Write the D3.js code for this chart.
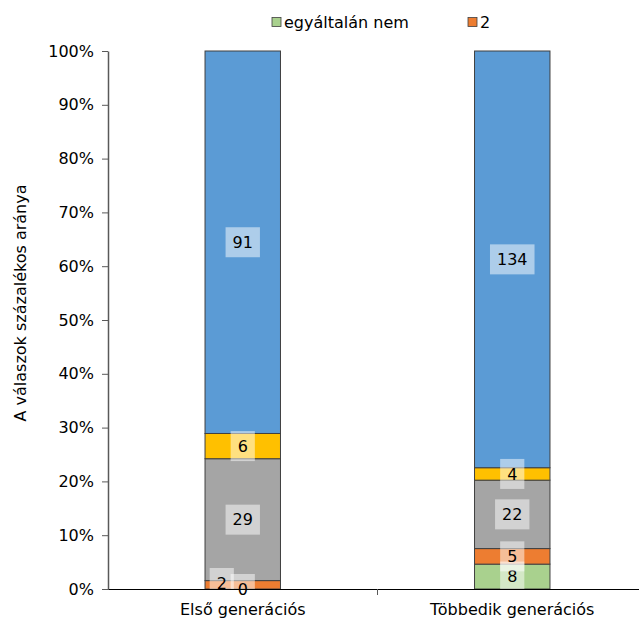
<!DOCTYPE html>
<html>
<head>
<meta charset="utf-8">
<script src="https://cdn.jsdelivr.net/npm/d3@7"></script>
<style>
  body { margin: 0; background: #fff; }
  svg { font-family: Tahoma, "DejaVu Sans", sans-serif; }
</style>
</head>
<body>
<svg id="chart" width="639" height="624"></svg>
<script>
const categories = ['Első generációs', 'Többedik generációs'];
const seriesNames = ['egyáltalán nem', '2', '3', '4', '5'];
const seriesColors = ['#A9D18E', '#ED7D31', '#A5A5A5', '#FFC000', '#5B9BD5'];
const counts = {
  'egyáltalán nem': [0, 8],
  '2': [2, 5],
  '3': [29, 22],
  '4': [6, 4],
  '5': [91, 134]
};
const legendItems = ['egyáltalán nem', '2'];
const yTicks = [0, 0.1, 0.2, 0.3, 0.4, 0.5, 0.6, 0.7, 0.8, 0.9, 1];

const margin = { left: 108, right: -8, top: 51, bottom: 35 };
const svg = d3.select('#chart');
const width = 639 - margin.left - margin.right;
const height = 624 - margin.top - margin.bottom;

// build rows and normalise to shares
const rows = categories.map((c, i) => {
  const row = { cat: c };
  seriesNames.forEach(s => row[s] = counts[s][i]);
  row.total = d3.sum(seriesNames, s => row[s]);
  return row;
});
const stack = d3.stack().keys(seriesNames)
  .value((d, k) => d[k] / d.total);
const stacked = stack(rows);

const x = d3.scaleBand().domain(categories).range([0, width]);
const y = d3.scaleLinear().domain([0, 1]).range([height, 0]);
const color = d3.scaleOrdinal().domain(seriesNames).range(seriesColors);
const barW = x.bandwidth() * 0.28;

const g = svg.append('g').attr('transform', `translate(${margin.left},${margin.top})`);

// bars
g.selectAll('g.series').data(stacked).enter()
  .append('g').attr('class', 'series')
  .attr('fill', d => color(d.key))
  .selectAll('rect').data(d => d).enter()
  .append('rect')
  .attr('x', d => x(d.data.cat) + (x.bandwidth() - barW) / 2)
  .attr('y', d => y(d[1]))
  .attr('width', barW)
  .attr('height', d => y(d[0]) - y(d[1]))
  .attr('stroke', '#404040')
  .attr('stroke-width', 1);

// data labels
const labels = [];
stacked.forEach(ser => {
  ser.forEach(d => {
    labels.push({
      key: ser.key,
      value: d.data[ser.key],
      cx: x(d.data.cat) + x.bandwidth() / 2,
      cy: (y(d[0]) + y(d[1])) / 2
    });
  });
});
// crude collision handling for tiny segments at the bottom
categories.forEach(c => {
  const cx = x(c) + x.bandwidth() / 2;
  const ls = labels.filter(l => l.cx === cx).sort((a, b) => b.cy - a.cy);
  for (let i = 1; i < ls.length; i++) {
    if (ls[i - 1].cy - ls[i].cy < 16) {
      if (ls[i - 1].value === 0) {
        ls[i - 1].cy = height;
        ls[i].cx -= 21;
        ls[i].cy = height - 6;
      } else {
        ls[i - 1].cy += 2;
        ls[i].cy = ls[i - 1].cy - 21;
      }
    }
  }
});

const lab = g.append('g').selectAll('g').data(labels).enter().append('g')
  .attr('transform', d => `translate(${d.cx},${d.cy})`);
lab.append('text')
  .attr('text-anchor', 'middle')
  .attr('dy', '0.36em')
  .attr('font-size', 16)
  .attr('fill', '#000')
  .text(d => d.value);
lab.each(function () {
  const t = d3.select(this).select('text');
  const bb = t.node().getBBox();
  d3.select(this).insert('rect', 'text')
    .attr('x', bb.x - 7)
    .attr('y', -15)
    .attr('width', bb.width + 14)
    .attr('height', 30)
    .attr('fill', '#fff')
    .attr('fill-opacity', 0.5);
});

// y axis
const yAxis = g.append('g')
  .call(d3.axisLeft(y).tickValues(yTicks).tickFormat(d3.format('.0%')).tickSize(6).tickSizeOuter(0));
yAxis.select('.domain').attr('stroke', '#595959').attr('stroke-width', 1.5);
yAxis.selectAll('.tick line').attr('stroke', '#595959');
yAxis.selectAll('.tick text').attr('font-size', 16).attr('fill', '#000').attr('x', -14)
  .attr('font-family', 'Tahoma, "DejaVu Sans", sans-serif');

// x axis
const xAxis = g.append('g').attr('transform', `translate(0,${height})`)
  .call(d3.axisBottom(x).tickSize(0).tickSizeOuter(0));
xAxis.select('.domain').attr('stroke', '#000').attr('stroke-width', 1);
xAxis.selectAll('.tick text').attr('font-size', 16).attr('fill', '#000').attr('dy', '1.45em')
  .attr('font-family', 'Tahoma, "DejaVu Sans", sans-serif');
// separator tick between the categories
g.append('line')
  .attr('x1', x(categories[1])).attr('x2', x(categories[1]))
  .attr('y1', height).attr('y2', height + 6)
  .attr('stroke', '#595959');

// y axis title
svg.append('text')
  .attr('transform', 'translate(26,303) rotate(-90)')
  .attr('text-anchor', 'middle')
  .attr('font-size', 16)
  .text('A válaszok százalékos aránya');

// legend
const legend = svg.append('g').attr('transform', 'translate(272,22)');
const legX = [0, 196];
legendItems.forEach((s, i) => {
  const it = legend.append('g').attr('transform', `translate(${legX[i]},0)`);
  it.append('rect').attr('x', 0).attr('y', -4.5).attr('width', 9).attr('height', 9)
    .attr('fill', color(s)).attr('stroke', '#404040').attr('stroke-width', 0.8);
  it.append('text').attr('x', 12).attr('dy', '0.36em').attr('font-size', 16).text(s);
});
</script>
</body>
</html>
